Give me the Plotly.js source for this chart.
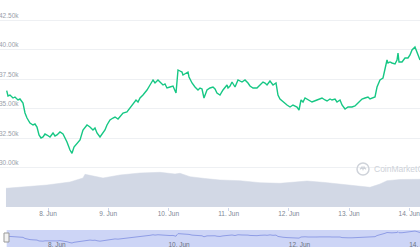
<!DOCTYPE html>
<html>
<head>
<meta charset="utf-8">
<script src="https://cdn.plot.ly/plotly-3.0.1.min.js"></script>
<style>html,body{margin:0;padding:0;background:#fff;}#chart{width:420px;height:252px;}</style>
</head>
<body>
<div id="chart"></div>
<script>
// BTC price (USD), 7-14 Jun 2021
var priceTimes = [
"2021-06-07 07:32","2021-06-07 08:03","2021-06-07 08:51","2021-06-07 10:03","2021-06-07 10:50","2021-06-07 12:02","2021-06-07 12:50","2021-06-07 13:38","2021-06-07 14:02","2021-06-07 14:50",
"2021-06-07 15:38","2021-06-07 16:49","2021-06-07 18:01","2021-06-07 18:49","2021-06-07 19:37","2021-06-07 20:25","2021-06-07 21:13","2021-06-07 22:01","2021-06-07 22:48","2021-06-07 23:36",
"2021-06-08 00:48","2021-06-08 02:00","2021-06-08 02:47","2021-06-08 03:35","2021-06-08 04:47","2021-06-08 05:59","2021-06-08 06:47","2021-06-08 07:34","2021-06-08 08:46","2021-06-08 09:34",
"2021-06-08 10:22","2021-06-08 11:34","2021-06-08 12:46","2021-06-08 13:57","2021-06-08 14:45","2021-06-08 15:33","2021-06-08 16:44","2021-06-08 17:56","2021-06-08 18:44","2021-06-08 19:32",
"2021-06-08 20:44","2021-06-08 21:56","2021-06-08 22:43","2021-06-08 23:31","2021-06-09 00:43","2021-06-09 01:55","2021-06-09 02:43","2021-06-09 03:55","2021-06-09 04:42","2021-06-09 05:54",
"2021-06-09 07:29","2021-06-09 08:41","2021-06-09 09:53","2021-06-09 11:05","2021-06-09 11:53","2021-06-09 12:41","2021-06-09 13:52","2021-06-09 15:28","2021-06-09 16:40","2021-06-09 17:52",
"2021-06-09 18:40","2021-06-09 19:51","2021-06-09 20:39","2021-06-09 21:51","2021-06-09 22:38","2021-06-09 23:26","2021-06-10 00:38","2021-06-10 01:50","2021-06-10 03:02","2021-06-10 03:26",
"2021-06-10 03:50","2021-06-10 04:37","2021-06-10 05:25","2021-06-10 05:49","2021-06-10 06:37","2021-06-10 07:25","2021-06-10 07:49","2021-06-10 08:13","2021-06-10 09:25","2021-06-10 10:36",
"2021-06-10 11:48","2021-06-10 12:36","2021-06-10 13:24","2021-06-10 14:11","2021-06-10 15:23","2021-06-10 16:35","2021-06-10 17:47","2021-06-10 18:35","2021-06-10 19:22","2021-06-10 20:34",
"2021-06-10 21:46","2021-06-10 23:22","2021-06-10 23:46","2021-06-11 00:34","2021-06-11 01:22","2021-06-11 02:33","2021-06-11 03:45","2021-06-11 05:20","2021-06-11 06:32","2021-06-11 07:44",
"2021-06-11 08:32","2021-06-11 09:44","2021-06-11 11:19","2021-06-11 12:31","2021-06-11 13:43","2021-06-11 14:31","2021-06-11 15:19","2021-06-11 16:30","2021-06-11 17:42","2021-06-11 18:54",
"2021-06-11 19:41","2021-06-11 20:29","2021-06-11 21:41","2021-06-11 23:17","2021-06-12 00:29","2021-06-12 01:40","2021-06-12 03:16","2021-06-12 04:04","2021-06-12 04:52","2021-06-12 05:40",
"2021-06-12 06:28","2021-06-12 07:39","2021-06-12 09:15","2021-06-12 11:14","2021-06-12 12:26","2021-06-12 13:14","2021-06-12 14:26","2021-06-12 15:14","2021-06-12 16:26","2021-06-12 17:13",
"2021-06-12 18:25","2021-06-12 19:13","2021-06-12 20:25","2021-06-12 21:13","2021-06-12 22:25","2021-06-12 23:36","2021-06-13 01:12","2021-06-13 02:23","2021-06-13 03:35","2021-06-13 04:23",
"2021-06-13 05:11","2021-06-13 06:23","2021-06-13 07:34","2021-06-13 08:22","2021-06-13 09:10","2021-06-13 10:22","2021-06-13 11:10","2021-06-13 12:21","2021-06-13 13:33","2021-06-13 14:21",
"2021-06-13 15:09","2021-06-13 15:33","2021-06-13 16:20","2021-06-13 17:08","2021-06-13 18:20","2021-06-13 19:08","2021-06-13 19:32","2021-06-13 19:56","2021-06-13 21:08","2021-06-13 22:19",
"2021-06-13 23:31","2021-06-14 00:19","2021-06-14 01:07","2021-06-14 02:18","2021-06-14 03:07","2021-06-14 03:54","2021-06-14 04:18"
];
var priceValues = [
36508,36059,36144,35889,35974,35720,35805,35576,35466,34618,
34195,33771,33601,33686,33432,32754,32500,32585,32839,32754,
32585,32924,32669,32754,33008,32839,32500,32161,31483,31203,
31737,32076,32330,33178,33432,33601,33432,33178,33347,32924,
32585,32924,33178,33601,34025,34195,34279,34110,34279,34618,
34703,35042,35381,35720,35550,35889,36144,36568,36991,37415,
37161,37415,37245,36991,37076,36737,36822,36907,36313,37415,
38263,38178,38093,37839,37924,38008,38093,37669,37161,36822,
36568,36737,36653,35889,36568,36737,36822,36653,36313,36144,
36568,36991,36737,36907,37245,36822,37415,37245,37415,37161,
36907,36737,36737,36991,37245,37161,36991,37330,36991,37161,
36144,35805,35550,35296,35127,35296,35127,34873,35720,35550,
35889,35720,35550,35720,35805,35889,35720,35635,35805,35720,
35805,35550,35720,35296,34957,35127,35127,35212,35466,35635,
35805,35889,35974,35805,35889,35974,36822,37415,37585,38517,
39110,38856,38941,38856,38771,39110,39703,38941,38941,39280,
39280,39534,39958,40212,39788,39280,39110
];
// 24h volume (billion USD)
var volumeTimes = [
"2021-06-07 07:15","2021-06-07 23:36","2021-06-08 08:46","2021-06-08 13:57","2021-06-08 14:45","2021-06-08 18:44","2021-06-08 21:56","2021-06-09 04:42","2021-06-09 12:41","2021-06-09 20:39",
"2021-06-10 02:38","2021-06-10 04:37","2021-06-10 06:37","2021-06-10 08:37","2021-06-10 14:35","2021-06-10 20:34","2021-06-11 04:32","2021-06-11 12:31","2021-06-11 20:29","2021-06-12 02:28",
"2021-06-12 07:16","2021-06-12 14:26","2021-06-12 23:12","2021-06-13 08:22","2021-06-13 12:21","2021-06-13 15:09","2021-06-13 20:20","2021-06-14 04:18"
];
var volumeValues = [
37.4,44.0,50.0,58.0,65.4,62.0,58.0,64.0,68.0,69.4,
66.0,67.4,64.0,60.6,57.0,54.0,52.6,48.6,47.4,50.0,
52.0,49.0,44.0,39.4,46.0,52.6,55.0,55.4
];
var priceTickVals = [30000,32500,35000,37500,40000,42500];
var priceTickText = ["30.00k","32.50k","35.00k","37.50k","40.00k","42.50k"];
var dayTickVals = ["2021-06-08","2021-06-09","2021-06-10","2021-06-11","2021-06-12","2021-06-13","2021-06-14"];
var dayTickText = ["8. Jun","9. Jun","10. Jun","11. Jun","12. Jun","13. Jun","14. Jun"];
var navTickVals = ["2021-06-08","2021-06-10","2021-06-12","2021-06-14"];
var navTickText = ["8. Jun","10. Jun","12. Jun","14. Jun"];
var xRange = ["2021-06-07 04:52","2021-06-14 04:18"];

var H = 252;
function py(px){ return 1 - px / H; }

var traces = [
  {x: volumeTimes, y: volumeValues, xaxis: 'x', yaxis: 'y2', type: 'scatter', mode: 'lines',
   fill: 'tozeroy', fillcolor: '#d2d8e5', line: {color: '#d2d8e5', width: 0.5}, hoverinfo: 'skip'},
  {x: priceTimes, y: priceValues, xaxis: 'x', yaxis: 'y', type: 'scatter', mode: 'lines',
   line: {color: '#16c784', width: 1.4}},
  {x: priceTimes, y: priceValues, xaxis: 'x2', yaxis: 'y3', type: 'scatter', mode: 'lines',
   line: {color: '#8f9de6', width: 1}}
];

var FF = 'Liberation Sans, Arial, sans-serif';

var layout = {
  width: 420, height: 252,
  margin: {l: 0, r: 0, t: 0, b: 0, pad: 0},
  paper_bgcolor: '#ffffff', plot_bgcolor: 'rgba(0,0,0,0)',
  showlegend: false,
  font: {family: FF},
  xaxis: {type: 'date', range: xRange, domain: [0, 1], anchor: 'y2',
    tickmode: 'array', tickvals: dayTickVals, ticktext: dayTickText,
    ticks: 'outside', ticklen: 3, tickcolor: '#ccd6eb', ticklabelstandoff: -3,
    ticklabeloverflow: 'allow',
    tickfont: {family: FF, size: 6.5, color: '#7d8594'},
    showgrid: false, zeroline: false, showline: false, fixedrange: true},
  xaxis2: {type: 'date', matches: 'x', anchor: 'y3',
    tickmode: 'array', tickvals: navTickVals, ticktext: navTickText,
    ticklabelposition: 'inside right', ticks: '', ticklabelstandoff: -7,
    ticklabeloverflow: 'allow',
    tickfont: {family: FF, size: 6.5, color: '#6b7280'},
    showgrid: false, zeroline: false, showline: false, fixedrange: true},
  yaxis: {domain: [py(207), 1], range: [26652, 44195], anchor: 'x',
    tickmode: 'array', tickvals: priceTickVals, ticktext: priceTickText,
    ticklabelposition: 'inside top', ticklabelstandoff: -4, ticks: '',
    tickfont: {family: FF, size: 6.5, color: '#9aa0aa'},
    gridcolor: '#eef0f3', gridwidth: 1, zeroline: false, showline: false, fixedrange: true},
  yaxis2: {domain: [py(207), py(167)], range: [0, 80], anchor: 'x',
    showticklabels: false, showgrid: false, zeroline: false, showline: false, fixedrange: true},
  yaxis3: {domain: [py(247), py(230)], range: [28200, 41000], anchor: 'x2',
    showticklabels: false, showgrid: false, zeroline: false, showline: false, fixedrange: true},
  shapes: [
    {type: 'rect', xref: 'x', yref: 'paper', x0: priceTimes[0], x1: xRange[1],
     y0: py(247), y1: py(230), fillcolor: '#cdd5f6', line: {width: 0}, layer: 'below'},
    {type: 'rect', xref: 'paper', yref: 'paper', x0: 4/420, x1: 9/420, y0: py(242), y1: py(233),
     fillcolor: '#f2f2f2', line: {color: '#999999', width: 1}},
    {type: 'circle', xref: 'paper', yref: 'paper', x0: 357/420, x1: 369/420, y0: py(175), y1: py(163),
     line: {color: '#cfd3da', width: 1.5}},
    {type: 'path', xref: 'paper', yref: 'paper',
     path: 'M 0.8571,0.3274 L 0.8619,0.3373 L 0.8643,0.3274 L 0.8667,0.3373 L 0.8714,0.3274',
     line: {color: '#cfd3da', width: 1.2}}
  ],
  annotations: [
    {xref: 'paper', yref: 'paper', x: 372/420, y: py(169), xanchor: 'left', yanchor: 'middle',
     text: 'CoinMarketCap', showarrow: false,
     font: {family: FF, size: 8.5, color: '#ced2d9'}}
  ]
};

Plotly.newPlot('chart', traces, layout, {displayModeBar: false, staticPlot: true});
</script>
</body>
</html>
